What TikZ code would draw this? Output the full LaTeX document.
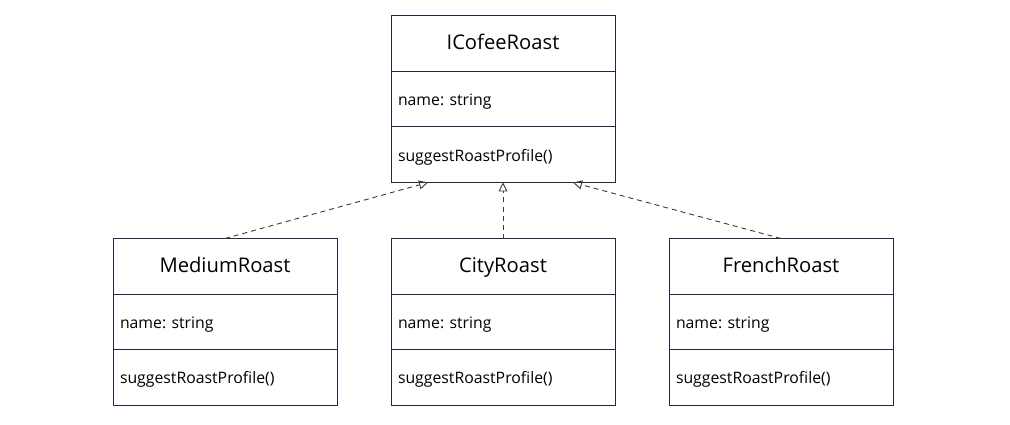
\documentclass[tikz,border=0pt]{standalone}
\usepackage{fontspec}
\setmainfont{Open Sans}
\usetikzlibrary{arrows.meta,calc}
\definecolor{boxline}{HTML}{2B2545}
\definecolor{arrowline}{HTML}{3A3A3A}
\frenchspacing
\tikzset{
  cell/.style={draw=boxline, line width=1pt, minimum width=224pt, minimum height=55.5pt, inner sep=0pt, outer sep=0pt, anchor=north west},
  titlecell/.style={cell, font=\fontsize{20.2}{24}\selectfont, text height=1.25em, text depth=0.05em},
  textcell/.style={cell, font=\fontsize{15.8}{19}\selectfont, text width=210pt, align=left, text height=1.35em, text depth=0.05em},
  realize/.style={draw=arrowline, line width=0.9pt, dash pattern=on 5pt off 4pt, -{Triangle[open, length=9pt, width=9pt]}}
}
\begin{document}
\begin{tikzpicture}[x=1pt,y=-1pt]
\useasboundingbox (0,0) rectangle (1010,425);
% top class
\node[titlecell] (top-title) at (391,16) {ICofeeRoast};
\node[textcell] (top-attr) at (391,71.5) {name: string};
\node[textcell] (top-meth) at (391,127) {suggestRoastProfile()};
% medium
\node[titlecell] (med-title) at (113,238.5) {MediumRoast};
\node[textcell] (med-attr) at (113,294) {name: string};
\node[textcell] (med-meth) at (113,349.5) {suggestRoastProfile()};
% city
\node[titlecell] (city-title) at (391,238.5) {CityRoast};
\node[textcell] (city-attr) at (391,294) {name: string};
\node[textcell] (city-meth) at (391,349.5) {suggestRoastProfile()};
% french
\node[titlecell] (fr-title) at (669,238.5) {FrenchRoast};
\node[textcell] (fr-attr) at (669,294) {name: string};
\node[textcell] (fr-meth) at (669,349.5) {suggestRoastProfile()};
% arrow targets
\coordinate (tgt-l) at ($(top-meth.south)+(-75,0)$);
\coordinate (tgt-r) at ($(top-meth.south)+(70,0)$);
\draw[realize] (med-title.north) -- (tgt-l);
\draw[realize] (city-title.north) -- (top-meth.south);
\draw[realize] (fr-title.north) -- (tgt-r);
\end{tikzpicture}
\end{document}
